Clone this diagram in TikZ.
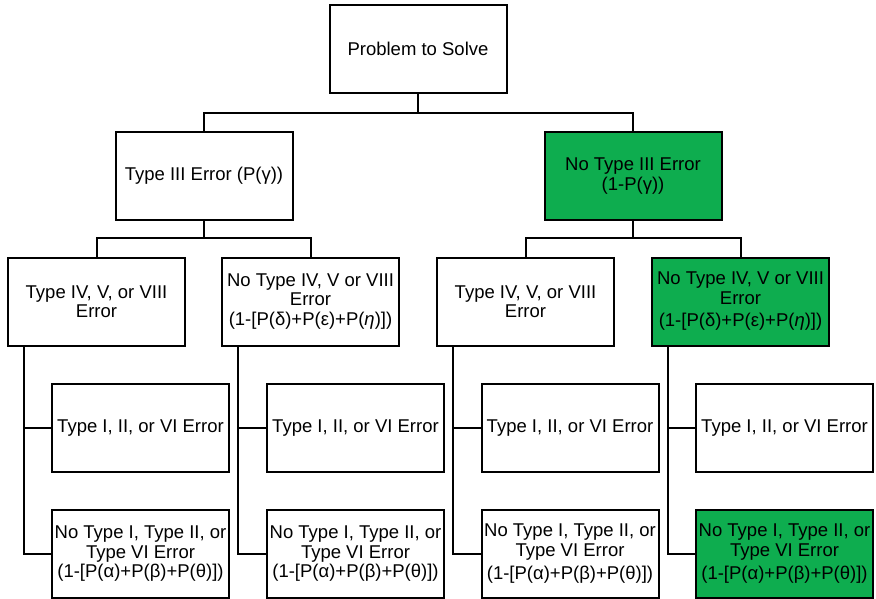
\documentclass[tikz,border=0pt]{standalone}
\usepackage{fontspec}
\setmainfont{Liberation Sans}
\definecolor{okgreen}{RGB}{14,173,79}
\begin{document}
\begin{tikzpicture}[x=1pt,y=-1pt,
  box/.style={draw=black,line width=2pt,fill=white,minimum width=177pt,minimum height=88pt,
    inner sep=0pt,align=center,font=\fontsize{18.5}{19.5}\selectfont},
  good/.style={box,fill=okgreen},
  link/.style={draw=black,line width=2pt}]
\useasboundingbox (0,0) rectangle (876,599);

% root and first split
\node[box] (root) at (418,49) {Problem to Solve};
\node[box] (t3) at (204,176) {Type III Error (P(γ))};
\node[good] (n3) at (633,176) {No Type III Error\\(1-P(γ))};

% second split
\node[box] (t3a) at (96.5,301.5) {Type IV, V, or VIII\\Error};
\node[box] (t3b) at (310.5,301.5) {No Type IV, V or VIII\\Error\\(1-[P(δ)+P(ε)+P(\textit{η})])};
\node[box] (n3a) at (525.5,301.5) {Type IV, V, or VIII\\Error};
\node[good] (n3b) at (740.5,301.5) {No Type IV, V or VIII\\Error\\[3pt](1-[P(δ)+P(ε)+P(\textit{η})])};

% leaves
\node[box] (t3a1) at (140.5,428) {Type I, II, or VI Error};
\node[box] (t3a2) at (140.5,554) {No Type I, Type II, or\\Type VI Error\\(1-[P(α)+P(β)+P(θ)])};
\node[box] (t3b1) at (355.5,428) {Type I, II, or VI Error};
\node[box] (t3b2) at (355.5,554) {No Type I, Type II, or\\Type VI Error\\(1-[P(α)+P(β)+P(θ)])};
\node[box] (n3a1) at (570,428) {Type I, II, or VI Error};
\node[box] (n3a2) at (570,554) {No Type I, Type II, or\\Type VI Error\\[4pt](1-[P(α)+P(β)+P(θ)])};
\node[box] (n3b1) at (784.5,428) {Type I, II, or VI Error};
\node[good] (n3b2) at (784.5,554) {No Type I, Type II, or\\Type VI Error\\[4pt](1-[P(α)+P(β)+P(θ)])};

% bus lines between levels
\coordinate (b0) at (418,113);
\coordinate (b1) at (204,238);
\coordinate (b2) at (633,238);
\draw[link] (root.south) -- (b0);
\draw[link] (t3.north) |- (b0) -| (n3.north);
\draw[link] (t3.south) -- (b1);
\draw[link] (t3a.north) |- (b1) -| (t3b.north);
\draw[link] (n3.south) -- (b2);
\draw[link] (n3a.north) |- (b2) -| (n3b.north);

% side rails to the leaves
\foreach \p/\a/\b in {t3a/t3a1/t3a2, t3b/t3b1/t3b2, n3a/n3a1/n3a2, n3b/n3b1/n3b2}{
  \coordinate (\p-r) at ([xshift=17pt]\p.south west);
  \draw[link] (\p-r) |- (\b.west);
  \draw[link] (\p-r |- \a.west) -- (\a.west);
}
\end{tikzpicture}
\end{document}
